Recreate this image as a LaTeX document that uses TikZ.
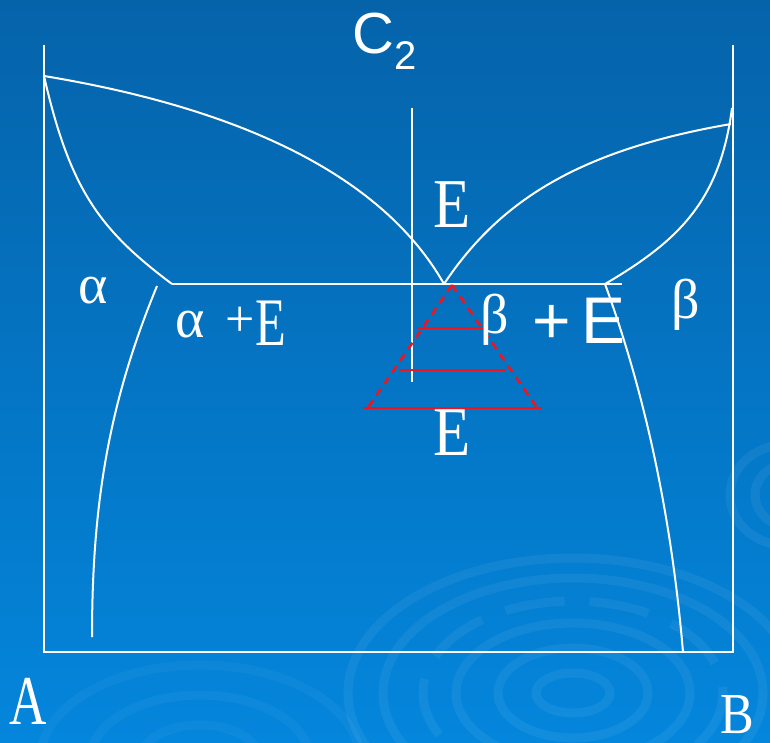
\documentclass[tikz,border=0pt]{standalone}
\usepackage{fontspec}
\setmainfont{Liberation Serif}
\newfontfamily\sansf{Liberation Sans}
\newfontfamily\serifnarrow[FakeStretch=0.74]{Liberation Serif}
\newfontfamily\serifmid[FakeStretch=0.87]{Liberation Serif}
\definecolor{bgtop}{RGB}{5,99,170}
\definecolor{bgbot}{RGB}{4,134,220}
\definecolor{redl}{RGB}{240,20,30}
\begin{document}
\begin{tikzpicture}[x=1pt,y=-1pt,
  wline/.style={white,line width=2pt},
  rline/.style={redl,line width=2.6pt},
  rdash/.style={redl,line width=2.6pt,dash pattern=on 8pt off 6pt},
  ripple/.style={white,opacity=0.06,line width=9pt},
  lbl/.style={white,inner sep=0pt,anchor=base}]
\useasboundingbox (0,0) rectangle (770,743);
\shade[top color=bgtop,bottom color=bgbot] (0,0) rectangle (770,743);
% background ripples
\begin{scope}
\clip (0,0) rectangle (770,743);
\foreach \rx/\ry in {37/20,75/45,117/70,190/115,225/135}
  \draw[ripple] (573,693) ellipse [x radius=\rx, y radius=\ry];
\draw[ripple,dash pattern=on 60pt off 25pt] (573,693) ellipse [x radius=150, y radius=92];
\foreach \rx/\ry in {60/35,110/65,160/95}
  \draw[ripple,opacity=0.04] (200,760) ellipse [x radius=\rx, y radius=\ry];
\foreach \rx/\ry in {30/30,55/50}
  \draw[ripple] (785,495) ellipse [x radius=\rx, y radius=\ry];
\end{scope}
% frame
\coordinate (TL) at (44,45);
\coordinate (BL) at (44,652);
\coordinate (BR) at (733,652);
\coordinate (TR) at (733,45);
\draw[wline] (TL) -- (BL) -- (BR) -- (TR);
% key points
\coordinate (Ma) at (44,76);
\coordinate (Mb) at (731,124);
\coordinate (Mb2) at (732,108);
\coordinate (Eu) at (444,284);
\coordinate (Sa) at (172,284);
\coordinate (Sb) at (605,284);
\coordinate (Hr) at (622,284);
\coordinate (Va) at (157,286);
\coordinate (Vaend) at (92,637);
\coordinate (Vbend) at (683,652);
\coordinate (Ct) at (412,108);
\coordinate (Cb) at (412,382);
% eutectic line
\draw[wline] (Sa) -- (Hr);
% composition line
\draw[wline] (Ct) -- (Cb);
% liquidus
\draw[wline] (Ma) .. controls (250,110) and (385,180) .. (Eu);
\draw[wline] (Eu) .. controls (500,200) and (580,150) .. (Mb);
% solidus
\draw[wline] (Ma) .. controls (70,190) and (100,230) .. (Sa);
\draw[wline] (Mb2) .. controls (720,200) and (680,240) .. (Sb);
% solvus
\draw[wline] (Va) .. controls (110,400) and (92,500) .. (Vaend);
\draw[wline] (Sb) .. controls (640,380) and (670,500) .. (Vbend);
% red triangle
\coordinate (Rt) at (452,285);
\coordinate (Rl) at (365,412);
\coordinate (Rr) at (540,412);
\draw[rdash] (Rt) -- (Rl);
\draw[rdash] (Rt) -- (Rr);
\coordinate (R1a) at (417,328); \coordinate (R1b) at (488,328);
\coordinate (R2a) at (399,370); \coordinate (R2b) at (506,370);
\coordinate (R3a) at (363,408); \coordinate (R3b) at (542,408);
\draw[rline] (R1a) -- (R1b);
\draw[rline] (R2a) -- (R2b);
\draw[rline] (R3a) -- (R3b);
% labels
\node[lbl,anchor=base west] (c2) at (352,54) {\sansf\fontsize{58}{58}\selectfont C\raisebox{-16pt}{\fontsize{40}{40}\selectfont 2}};
\node[lbl] (etop) at (452,228) {\serifmid\fontsize{70}{70}\selectfont E};
\node[lbl] (ebot) at (452,455) {\serifmid\fontsize{70}{70}\selectfont E};
\node[lbl] (alpha) at (93,303) {\fontsize{56}{56}\selectfont α};
\node[lbl] (alpha2) at (190,337) {\fontsize{56}{56}\selectfont α};
\node[lbl] (plus1) at (240,336) {\fontsize{52}{52}\selectfont +};
\node[lbl] (e1) at (271,345) {\serifnarrow\fontsize{68}{68}\selectfont E};
\node[lbl] (beta2) at (495,333) {\fontsize{56}{56}\selectfont β};
\node[lbl] (pe2) at (579,343) {\sansf\fontsize{66}{66}\selectfont +\,E};
\node[lbl] (beta) at (686,318) {\fontsize{56}{56}\selectfont β};
\node[lbl,text depth=0pt] (A) at (28,724) {\serifnarrow\fontsize{70}{70}\selectfont A};
\node[lbl,text depth=0pt] (B) at (737,733) {\serifmid\fontsize{58}{58}\selectfont B};
\end{tikzpicture}
\end{document}
